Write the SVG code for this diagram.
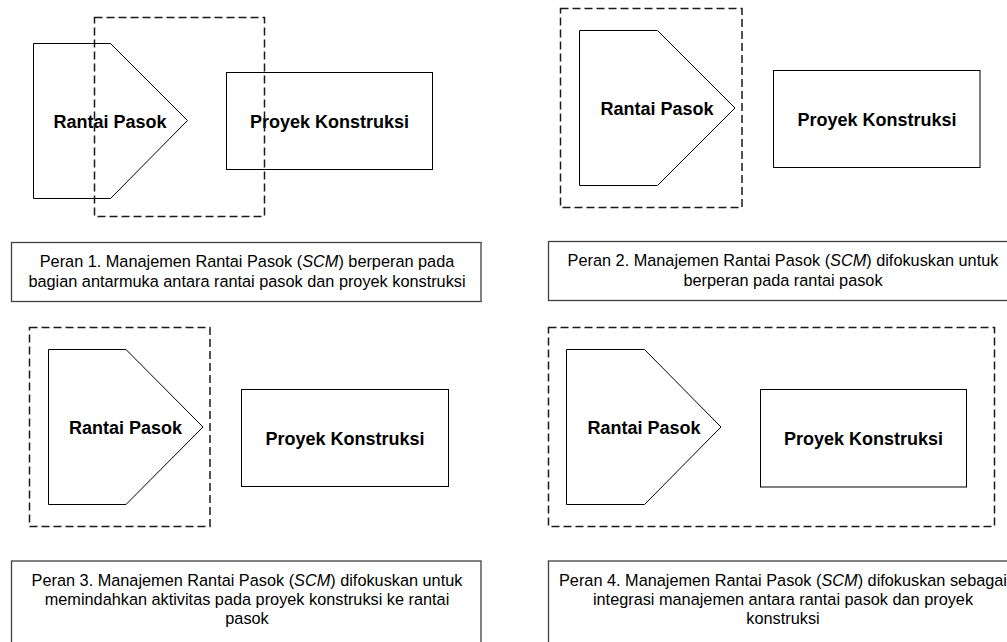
<svg xmlns="http://www.w3.org/2000/svg" width="1007" height="642" viewBox="0 0 1007 642">
<style>
.shape{fill:#fff;stroke:#000;stroke-width:1}
.scope{fill:none;stroke:#1a1a1a;stroke-width:1.5;stroke-dasharray:8 4}
.cap{fill:#fff;stroke:#404040;stroke-width:1.3}
.lbl{font-family:"Liberation Sans",Arial,sans-serif;font-weight:bold;font-size:18px;fill:#000;text-anchor:middle}
.txt{font-family:"Liberation Sans",Arial,sans-serif;font-size:16.3px;fill:#000;text-anchor:middle}
</style>
<rect width="1007" height="642" fill="#fff"/>
<g id="connectors"/>

<!-- Panel 1 -->
<g id="p1-rantai-pasok">
<path class="shape" d="M33.5,43.5 L110.5,43.5 L187.5,120.5 L110.5,198.5 L33.5,198.5 Z"/>
<text class="lbl" x="110" y="127.5">Rantai Pasok</text>
</g>
<g id="p1-proyek-konstruksi">
<rect class="shape" x="226.5" y="72.5" width="206" height="97"/>
<text class="lbl" x="329.5" y="127.5">Proyek Konstruksi</text>
</g>
<g id="p1-scm-scope">
<rect class="scope" x="94.5" y="17.5" width="170" height="199"/>
</g>
<g id="p1-caption">
<rect class="cap" x="11.5" y="242.5" width="469.5" height="59"/>
<text class="txt" x="247" y="267">Peran 1. Manajemen Rantai Pasok (<tspan font-style="italic">SCM</tspan>) berperan pada</text>
<text class="txt" x="247" y="286.5">bagian antarmuka antara rantai pasok dan proyek konstruksi</text>
</g>

<!-- Panel 2 -->
<g id="p2-scm-scope">
<rect class="scope" x="560.5" y="8.5" width="181.5" height="199"/>
</g>
<g id="p2-rantai-pasok">
<path class="shape" d="M579.5,30.5 L657.5,30.5 L735,108 L657.5,185.5 L579.5,185.5 Z"/>
<text class="lbl" x="657" y="115">Rantai Pasok</text>
</g>
<g id="p2-proyek-konstruksi">
<rect class="shape" x="773.5" y="70.5" width="206.5" height="97"/>
<text class="lbl" x="877" y="126">Proyek Konstruksi</text>
</g>
<g id="p2-caption">
<rect class="cap" x="548.5" y="241.5" width="469" height="59"/>
<text class="txt" x="783" y="266">Peran 2. Manajemen Rantai Pasok (<tspan font-style="italic">SCM</tspan>) difokuskan untuk</text>
<text class="txt" x="783" y="285.5">berperan pada rantai pasok</text>
</g>

<!-- Panel 3 -->
<g id="p3-scm-scope">
<rect class="scope" x="29.5" y="327.5" width="180.5" height="199"/>
</g>
<g id="p3-rantai-pasok">
<path class="shape" d="M48.5,349.5 L126,349.5 L203,427 L126,504.5 L48.5,504.5 Z"/>
<text class="lbl" x="125.5" y="434">Rantai Pasok</text>
</g>
<g id="p3-proyek-konstruksi">
<rect class="shape" x="241.5" y="389.5" width="207" height="97"/>
<text class="lbl" x="345" y="445">Proyek Konstruksi</text>
</g>
<g id="p3-caption">
<rect class="cap" x="11.5" y="561" width="469.5" height="90"/>
<text class="txt" x="247" y="586">Peran 3. Manajemen Rantai Pasok (<tspan font-style="italic">SCM</tspan>) difokuskan untuk</text>
<text class="txt" x="247" y="605">memindahkan aktivitas pada proyek konstruksi ke rantai</text>
<text class="txt" x="247" y="624">pasok</text>
</g>

<!-- Panel 4 -->
<g id="p4-scm-scope">
<rect class="scope" x="548.5" y="327.5" width="446" height="199"/>
</g>
<g id="p4-rantai-pasok">
<path class="shape" d="M566.5,349.5 L644.5,349.5 L721,427 L644.5,504.5 L566.5,504.5 Z"/>
<text class="lbl" x="644" y="434">Rantai Pasok</text>
</g>
<g id="p4-proyek-konstruksi">
<rect class="shape" x="760.5" y="389.5" width="206" height="97.5"/>
<text class="lbl" x="863.5" y="445">Proyek Konstruksi</text>
</g>
<g id="p4-caption">
<rect class="cap" x="548.5" y="561" width="469" height="90"/>
<text class="txt" x="783" y="586">Peran 4. Manajemen Rantai Pasok (<tspan font-style="italic">SCM</tspan>) difokuskan sebagai</text>
<text class="txt" x="783" y="605">integrasi manajemen antara rantai pasok dan proyek</text>
<text class="txt" x="783" y="624">konstruksi</text>
</g>
</svg>
